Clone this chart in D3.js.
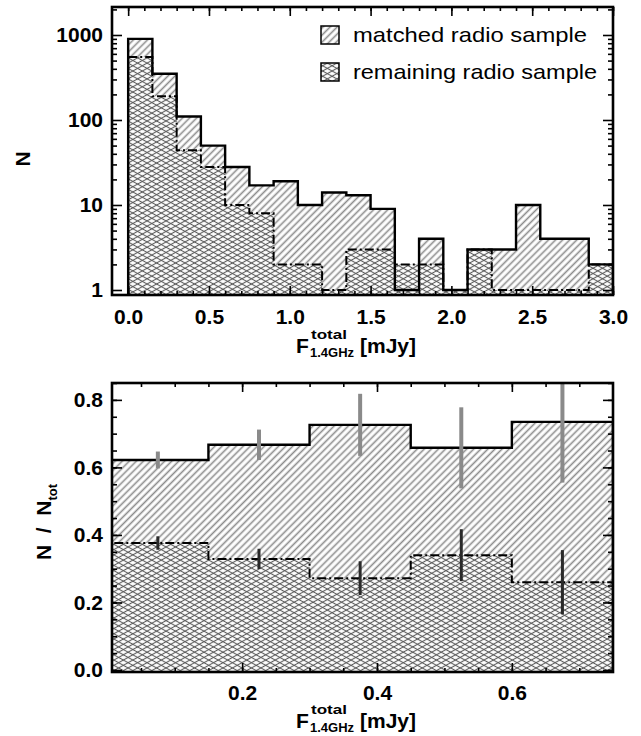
<!DOCTYPE html>
<html>
<head>
<meta charset="utf-8">
<script src="https://cdn.jsdelivr.net/npm/d3@7"></script>
<style>
  body { margin: 0; background: #fff; }
  svg { display: block; }
  text { font-family: "Liberation Sans", Arial, sans-serif; fill: #000; }
</style>
</head>
<body>
<svg id="chart" width="641" height="736"></svg>
<script>
// ---- data ----
var topEdges = [0.0, 0.15, 0.30, 0.45, 0.60, 0.75, 0.90, 1.05, 1.20, 1.35, 1.50,
                1.65, 1.80, 1.95, 2.10, 2.25, 2.40, 2.55, 2.70, 2.85, 3.00];
var matchedCounts   = [900, 350, 110, 50, 28, 17, 19, 10, 14, 13, 9, 1, 4, 1, 3, 3, 10, 4, 4, 2];
var remainingCounts = [550, 190, 44, 28, 10, 8, 2, 2, 1, 3, 3, 2, 2, 1, 3, 1, 1, 1, 1, 2];
var topXTicks = [0.0, 0.5, 1.0, 1.5, 2.0, 2.5, 3.0];
var topYTicks = [1, 10, 100, 1000];

var fracEdges = [0.0, 0.15, 0.30, 0.45, 0.60, 0.75];
var matchedFrac      = [0.622, 0.667, 0.726, 0.658, 0.735];
var matchedFracErr   = [0.025, 0.045, 0.092, 0.120, 0.180];
var remainingFrac    = [0.376, 0.329, 0.272, 0.340, 0.260];
var remainingFracErr = [0.020, 0.030, 0.050, 0.077, 0.095];
var bottomXTicks = [0.2, 0.4, 0.6];
var bottomYTicks = [0.0, 0.2, 0.4, 0.6, 0.8];

var legendLabels = ["matched radio sample", "remaining radio sample"];

var svg = d3.select("#chart");
var defs = svg.append("defs");

// hatch patterns
function linePattern(id, angle, gap, color, width, bg) {
  var p = defs.append("pattern")
    .attr("id", id)
    .attr("patternUnits", "userSpaceOnUse")
    .attr("width", 20).attr("height", gap)
    .attr("patternTransform", "rotate(" + angle + ")");
  if (bg) p.append("rect").attr("width", 20).attr("height", gap).attr("fill", "#fff");
  p.append("line")
    .attr("x1", 0).attr("x2", 20)
    .attr("y1", gap / 2).attr("y2", gap / 2)
    .attr("stroke", color).attr("stroke-width", width);
}
linePattern("hatch", -45, 5, "#8c8c8c", 1.6, true);
linePattern("crossA", -29, 4.6, "#5c5c5c", 1.1, true);
linePattern("crossB", 29, 4.6, "#5c5c5c", 1.1, false);

function stepPoints(edges, vals, base) {
  var pts = [[edges[0], base]];
  vals.forEach(function (v, i) {
    pts.push([edges[i], v]);
    pts.push([edges[i + 1], v]);
  });
  pts.push([edges[edges.length - 1], base]);
  return pts;
}

// draw one panel
function panel(opt) {
  var x = opt.x, y = opt.y;
  var x0 = x.range()[0], x1 = x.range()[1];
  var yb = y.range()[0], yt = y.range()[1];
  var base = y.domain()[0];

  var clipId = "clip" + opt.id;
  defs.append("clipPath").attr("id", clipId)
    .append("rect")
    .attr("x", x0).attr("y", yt)
    .attr("width", x1 - x0).attr("height", yb - yt);

  var g = svg.append("g").attr("clip-path", "url(#" + clipId + ")");
  var line = d3.line()
    .x(function (d) { return x(d[0]); })
    .y(function (d) { return y(d[1]); });

  var mPts = stepPoints(opt.edges, opt.matched, base);
  var rPts = stepPoints(opt.edges, opt.remaining, base);

  g.append("path").attr("d", line(mPts) + "Z").attr("fill", "url(#hatch)");
  g.append("path").attr("d", line(rPts) + "Z").attr("fill", "url(#crossA)");
  g.append("path").attr("d", line(rPts) + "Z").attr("fill", "url(#crossB)");

  g.append("path").attr("d", line(mPts))
    .attr("fill", "none").attr("stroke", "#000").attr("stroke-width", 2.4);
  g.append("path").attr("d", line(rPts))
    .attr("fill", "none").attr("stroke", "#000").attr("stroke-width", 2)
    .attr("stroke-dasharray", "9,3,2,3");

  if (opt.matchedErr) {
    var centers = opt.edges.slice(0, -1).map(function (e, i) {
      return (e + opt.edges[i + 1]) / 2;
    });
    g.selectAll(".errM").data(centers).enter().append("line")
      .attr("x1", function (d) { return x(d); })
      .attr("x2", function (d) { return x(d); })
      .attr("y1", function (d, i) { return y(opt.matched[i] - opt.matchedErr[i]); })
      .attr("y2", function (d, i) { return y(opt.matched[i] + opt.matchedErr[i]); })
      .attr("stroke", "#8a8a8a").attr("stroke-width", 4);
    g.selectAll(".errR").data(centers).enter().append("line")
      .attr("x1", function (d) { return x(d); })
      .attr("x2", function (d) { return x(d); })
      .attr("y1", function (d, i) { return y(opt.remaining[i] - opt.remainingErr[i]); })
      .attr("y2", function (d, i) { return y(opt.remaining[i] + opt.remainingErr[i]); })
      .attr("stroke", "#2a2a2a").attr("stroke-width", 3);
  }

  // ticks on all four sides, pointing inward
  function tickGroup(axis, tx, ty, labels) {
    var a = svg.append("g")
      .attr("transform", "translate(" + tx + "," + ty + ")")
      .call(axis);
    a.select(".domain").remove();
    a.selectAll("line").attr("stroke", "#000").attr("stroke-width", 1.6);
    if (labels) {
      a.selectAll("text")
        .style("font-family", '"Liberation Sans", Arial, sans-serif')
        .style("font-size", "21px").style("font-weight", "bold");
    } else {
      a.selectAll("text").remove();
    }
    return a;
  }

  tickGroup(d3.axisBottom(x).tickValues(opt.xMinor).tickSize(-4), 0, yb, false);
  tickGroup(d3.axisTop(x).tickValues(opt.xMinor).tickSize(-4), 0, yt, false);
  tickGroup(d3.axisBottom(x).tickValues(opt.xTicks).tickSize(-9)
    .tickPadding(opt.xPad).tickFormat(d3.format(".1f")), 0, yb, true);
  tickGroup(d3.axisTop(x).tickValues(opt.xTicks).tickSize(-9), 0, yt, false);

  tickGroup(d3.axisLeft(y).tickValues(opt.yMinor).tickSize(-5), x0, 0, false);
  tickGroup(d3.axisRight(y).tickValues(opt.yMinor).tickSize(-5), x1, 0, false);
  tickGroup(d3.axisLeft(y).tickValues(opt.yTicks).tickSize(-10)
    .tickPadding(9).tickFormat(opt.yFormat), x0, 0, true);
  tickGroup(d3.axisRight(y).tickValues(opt.yTicks).tickSize(-10), x1, 0, false);

  svg.append("rect")
    .attr("x", x0).attr("y", yt)
    .attr("width", x1 - x0).attr("height", yb - yt)
    .attr("fill", "none").attr("stroke", "#000").attr("stroke-width", 2.6);
}

// ---- top panel: counts, log scale ----
var xTop = d3.scaleLinear().domain([-0.1, 3.0]).range([112, 613]);
var yTop = d3.scaleLog().domain([0.873, 2135]).range([295, 7]);
var logMinor = [];
[1, 10, 100, 1000].forEach(function (dec) {
  [2, 3, 4, 5, 6, 7, 8, 9].forEach(function (m) { logMinor.push(dec * m); });
});

panel({
  id: "top", x: xTop, y: yTop, edges: topEdges,
  matched: matchedCounts, remaining: remainingCounts,
  xTicks: topXTicks, xMinor: d3.range(0, 31).map(function (i) { return i / 10; }),
  yTicks: topYTicks, yMinor: logMinor.filter(function (v) { return v < 2135; }),
  yFormat: d3.format("d"), xPad: 14
});

// legend
var legendFills = [["url(#hatch)"], ["url(#crossA)", "url(#crossB)"]];
var legendY = [26, 63];
legendLabels.forEach(function (lab, i) {
  legendFills[i].forEach(function (f) {
    svg.append("rect")
      .attr("x", 321).attr("y", legendY[i]).attr("width", 18).attr("height", 18)
      .attr("fill", f);
  });
  svg.append("rect")
    .attr("x", 321).attr("y", legendY[i]).attr("width", 18).attr("height", 18)
    .attr("fill", "none").attr("stroke", "#000").attr("stroke-width", 1.5);
  svg.append("text")
    .attr("x", 353).attr("y", legendY[i] + 16)
    .attr("textLength", i === 0 ? 234 : 244)
    .attr("lengthAdjust", "spacingAndGlyphs")
    .style("font-size", "21px")
    .text(lab);
});

// axis titles, top
svg.append("text")
  .attr("transform", "translate(30,159) rotate(-90)")
  .attr("text-anchor", "middle")
  .style("font-size", "21px").style("font-weight", "bold")
  .text("N");

function fluxLabel(yBase) {
  var t = svg.append("g").style("font-weight", "bold");
  t.append("text").attr("x", 296).attr("y", yBase).style("font-size", "21px").text("F");
  t.append("text").attr("x", 311).attr("y", yBase - 14)
    .attr("textLength", 36).attr("lengthAdjust", "spacingAndGlyphs")
    .style("font-size", "13px").text("total");
  t.append("text").attr("x", 310).attr("y", yBase + 4)
    .attr("textLength", 44).attr("lengthAdjust", "spacingAndGlyphs")
    .style("font-size", "13px").text("1.4GHz");
  t.append("text").attr("x", 360).attr("y", yBase).style("font-size", "21px").text("[mJy]");
}
fluxLabel(353);

// ---- bottom panel: fractions ----
var xBot = d3.scaleLinear().domain([0.007, 0.75]).range([112, 613]);
var yBot = d3.scaleLinear().domain([-0.006, 0.85]).range([672, 383]);

panel({
  id: "bot", x: xBot, y: yBot, edges: fracEdges,
  matched: matchedFrac, remaining: remainingFrac,
  matchedErr: matchedFracErr, remainingErr: remainingFracErr,
  xTicks: bottomXTicks, xMinor: d3.range(1, 15).map(function (i) { return i * 0.05; }),
  yTicks: bottomYTicks, yMinor: d3.range(0, 18).map(function (i) { return i * 0.05; }),
  yFormat: d3.format(".1f"), xPad: 13
});

var ny = svg.append("text")
  .attr("transform", "translate(51,522) rotate(-90)")
  .attr("text-anchor", "middle")
  .style("white-space", "pre")
  .style("font-size", "21px").style("font-weight", "bold");
ny.append("tspan").text("N  /  N");
ny.append("tspan").attr("dy", 6).style("font-size", "13px").text("tot");

fluxLabel(728);
</script>
</body>
</html>
